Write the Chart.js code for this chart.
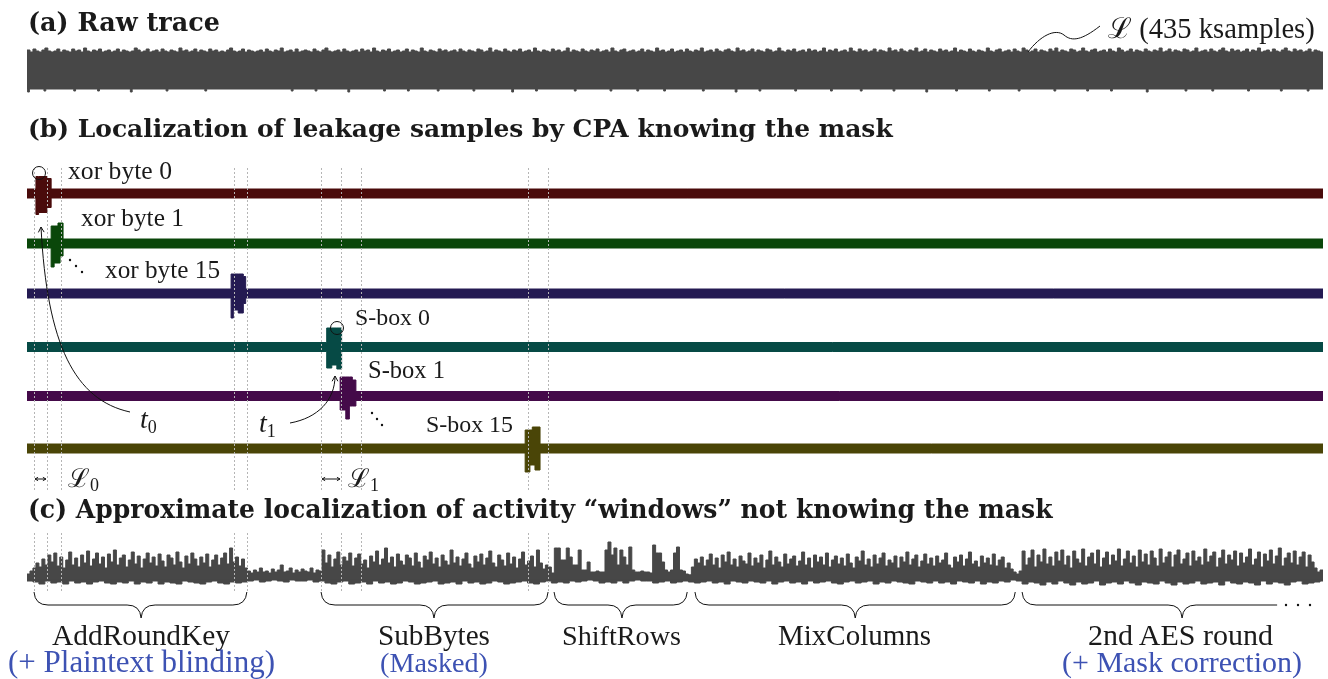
<!DOCTYPE html>
<html>
<head>
<meta charset="utf-8">
<script src="https://cdn.jsdelivr.net/npm/chart.js"></script>
<style>
html, body { margin: 0; padding: 0; background: #fff; }
#wrap { position: relative; width: 1328px; height: 679px; overflow: hidden; }
#c, #txt { position: absolute; left: 0; top: 0; }
#txt { pointer-events: none; }
#txt text { font-family: "Liberation Serif", "DejaVu Serif", serif; fill: #1a1a1a; }
#txt text.t { font-family: "DejaVu Serif", serif; font-weight: bold; }
#txt text.blue { fill: #3d52b3; }
</style>
</head>
<body>
<div id="wrap">
<canvas id="c" width="1328" height="679"></canvas>
<svg id="txt" width="1328" height="679" xmlns="http://www.w3.org/2000/svg">
  <text class="t" x="28" y="31" font-size="23" data-w="192">(a) Raw trace</text>
  <text x="1108" y="38" font-size="26" data-w="207">ℒ (435 ksamples)</text>
  <text class="t" x="28" y="137" font-size="23" data-w="865">(b) Localization of leakage samples by CPA knowing the mask</text>
  <text x="68" y="179" font-size="20" data-w="104">xor byte 0</text>
  <text x="81" y="226" font-size="20" data-w="103">xor byte 1</text>
  <text x="105" y="278" font-size="20" data-w="115">xor byte 15</text>
  <text x="355" y="325" font-size="20" data-w="75">S-box 0</text>
  <text x="368" y="378" font-size="20" data-w="77">S-box 1</text>
  <text x="426" y="432" font-size="20" data-w="87">S-box 15</text>
  <text x="140" y="428" font-size="28" font-style="italic">t<tspan font-size="18" dy="5" font-style="normal">0</tspan></text>
  <text x="259" y="432" font-size="28" font-style="italic">t<tspan font-size="18" dy="5" font-style="normal">1</tspan></text>
  <text x="68" y="487" font-size="26">ℒ<tspan font-size="18" dy="4">0</tspan></text>
  <text x="348" y="487" font-size="26">ℒ<tspan font-size="18" dy="4">1</tspan></text>
  <text class="t" x="28" y="518" font-size="23" data-w="1025">(c) Approximate localization of activity “windows” not knowing the mask</text>
  <text x="141" y="645" font-size="26" text-anchor="middle" data-w="178">AddRoundKey</text>
  <text class="blue" x="141.5" y="672" font-size="26" text-anchor="middle" data-w="267">(+ Plaintext blinding)</text>
  <text x="434" y="645" font-size="26" text-anchor="middle" data-w="112">SubBytes</text>
  <text class="blue" x="434" y="672" font-size="26" text-anchor="middle" data-w="108">(Masked)</text>
  <text x="621.5" y="645" font-size="26" text-anchor="middle" data-w="119">ShiftRows</text>
  <text x="854.5" y="645" font-size="26" text-anchor="middle" data-w="153">MixColumns</text>
  <text x="1180.5" y="645" font-size="26" text-anchor="middle" data-w="185">2nd AES round</text>
  <text class="blue" x="1182" y="672" font-size="26" text-anchor="middle" data-w="240">(+ Mask correction)</text>
</svg>
</div>
<script>
// trace length in ksamples
const SAMPLES = 435;

// (a) raw trace: extra height of the upper edge, one value per ksample
const rawTop = [
  2,0,3,1,0,2,4,1,0,1,3,0,2,1,0,3,1,2,0,4,1,0,2,1,3,0,1,2,0,
  1,3,0,2,1,0,1,4,2,0,1,3,0,1,2,0,3,1,0,2,1,0,4,1,2,0,1,3,0,
  2,1,0,3,1,2,0,1,0,2,4,1,0,1,3,0,2,1,0,1,2,0,3,1,0,2,1,4,0,
  1,2,0,3,0,1,2,1,0,3,1,0,2,4,1,0,1,2,0,3,1,0,1,2,0,3,1,2,0,
  4,1,0,2,1,3,0,1,2,0,1,3,0,2,1,0,4,1,0,2,1,0,3,1,2,0,1,2,0,
  3,1,0,2,1,0,3,2,0,1,4,0,2,1,0,3,1,0,2,1,3,0,1,2,0,4,1,0,2,
  1,0,3,1,2,0,1,4,0,2,1,0,3,1,0,2,1,3,0,1,2,0,4,1,0,2,3,0,1,
  2,0,1,3,0,2,1,0,4,1,2,0,1,3,0,1,2,0,3,1,0,2,1,4,0,1,2,0,3,
  1,0,2,3,1,0,4,1,2,0,1,3,0,2,1,0,3,2,0,1,4,1,0,2,1,3,0,1,2,
  0,3,1,2,0,1,4,0,2,1,3,0,1,2,0,4,1,0,3,1,2,0,1,3,0,2,1,0,4,
  1,2,0,3,1,0,2,1,4,0,1,3,0,2,1,0,3,1,2,0,1,4,0,2,1,0,3,1,0,
  2,1,0,4,1,0,2,3,0,1,2,0,3,1,0,4,2,0,1,3,0,2,1,0,3,1,4,0,2,
  1,0,3,2,0,1,4,1,0,2,3,0,1,2,0,3,1,0,4,2,0,1,3,0,2,1,0,3,1,
  0,2,1,4,0,1,3,0,2,1,0,3,2,0,1,4,0,1,2,0,3,1,0,2,4,1,0,3,1,
  2,0,1,3,0,2,1,4,0,1,2,0,3,1,0,2,4,1,0,3,1,2,0,1,3,0,2,1,0
];
// (a) raw trace: downward ticks of the lower edge (ksample, depth)
const rawBottomTicks = [0.5, 6, 16, 24, 35, 47, 60, 89, 97, 108, 120, 128, 138, 150, 163, 171, 184, 196, 205, 214,
  227, 238, 246, 258, 270, 280, 291, 302, 312, 323, 333, 345, 356, 364, 376, 389, 398, 410, 421, 430];
const rawBottomDepth = [3, 2, 2, 2, 3, 2, 2, 2, 2, 3, 2, 2, 2, 2, 3, 2, 2, 2, 2, 2,
  2, 3, 2, 2, 2, 2, 2, 3, 2, 2, 2, 2, 2, 2, 3, 2, 2, 2, 2, 2];

// (b) CPA traces: leakage spikes as [from ks, to ks, height up, depth down]
const traceNames = ['xor byte 0', 'xor byte 1', 'xor byte 15', 'S-box 0', 'S-box 1', 'S-box 15'];
const spikeXor0 = [[3.0, 3.9, 17, 21], [3.9, 6.7, 17, 19], [6.7, 8.1, 15, 14]];
const spikeXor1 = [[8.1, 9.1, 17.5, 23.5], [9.1, 10.4, 17.5, 19.5], [10.4, 11.1, 20.5, 19.5], [11.1, 12.1, 20.5, 12.5]];
const spikeXor15 = [[68.5, 69.25, 19.5, 24.5], [69.25, 70.9, 19.5, 16.5], [70.9, 72.6, 19.5, 19.5], [72.6, 73.4, 17, 10]];
const spikeSbox0 = [[100.6, 102.3, 19, 21], [102.3, 104.0, 19, 18], [104.0, 105.6, 19, 22]];
const spikeSbox1 = [[105.1, 107.0, 19, 14], [107.0, 108.2, 19, 23], [108.2, 109.2, 19, 10], [109.2, 110.4, 16, 10]];
const spikeSbox15 = [[167.2, 168.8, 18.5, 23.5], [168.8, 169.6, 18.5, 16.5], [169.6, 170.5, 21.5, 16.5], [170.5, 172.2, 21.5, 21.5]];

// (c) activity trace: upper envelope, one value per ksample
const actTop = [
  3, 6, 9, 14, 10, 18, 12, 22, 15, 24, 11, 20, 9, 17, 25, 12, 19, 10, 22, 14,
  26, 11, 18, 24, 13, 20, 9, 23, 15, 27, 12, 19, 22, 10, 17, 25, 13, 21, 9, 18,
  24, 14, 20, 11, 23, 16, 10, 22, 19, 12, 25, 15, 9, 21, 13, 24, 18, 11, 20, 14,
  23, 10, 17, 22, 12, 19, 24, 13, 29, 15, 20, 11, 18, 9, 6,
  4, 7, 5, 9, 5, 6, 4, 8, 5, 7, 12, 5, 6, 9, 4, 7, 5, 8, 6, 5, 9, 4, 7, 6,
  27, 14, 22, 10, 18, 25, 12, 20, 16, 24, 11, 19, 23, 13, 17, 9, 21, 15, 26, 12,
  18, 29, 14, 20, 10, 23, 16, 12, 22, 19, 11, 24, 15, 9, 21, 17, 25, 13, 19, 10,
  22, 16, 12, 27, 14, 20, 11, 18, 24, 13, 9, 21, 15, 23, 12, 19, 26, 14, 10, 22,
  17, 11, 24, 13, 20, 9, 18, 25, 12, 16, 21, 10, 27, 14, 8, 12,
  10, 4, 29, 29, 17, 17, 29, 20, 12, 12, 27, 7, 7, 15, 5, 5, 6, 5, 5, 27,
  35, 22, 29, 12, 27, 20, 12, 30, 7, 5, 5, 6, 5, 5, 4, 32, 24, 24, 15, 7,
  5, 7, 24, 30, 7, 6, 3, 2, 10, 18,
  14, 20, 11, 17, 23, 12, 19, 9, 22, 15, 25, 12, 18, 10, 21, 16, 13, 24, 11, 19,
  14, 22, 9, 17, 26, 12, 20, 15, 10, 23, 13, 18, 21, 11, 16, 25, 12, 19, 9, 22,
  15, 20, 12, 24, 10, 17, 21, 13, 19, 11, 23, 14, 9, 20, 16, 26, 12, 18, 10, 22,
  13, 19, 24, 11, 17, 14, 21, 9, 20, 15, 25, 12, 18, 22, 10, 16, 23, 13, 19, 11,
  21, 14, 17, 24, 12, 9, 20, 15, 22, 11, 18, 25, 13, 16, 10, 21, 14, 19, 12, 23,
  11, 17, 20, 9, 14, 8, 5, 3, 6,
  26, 12, 19, 27, 10, 22, 15, 28, 13, 20, 11, 25, 16, 27, 12, 21, 9, 26, 18, 14,
  28, 11, 20, 24, 13, 27, 10, 19, 25, 12, 22, 16, 28, 11, 18, 26, 14, 21, 10, 27,
  15, 23, 12, 26, 19, 11, 28, 14, 20, 25, 10, 22, 27, 13, 18, 24, 11, 26, 16, 20,
  12, 28, 15, 21, 25, 10, 19, 27, 13, 22, 17, 26, 11, 24, 14, 20, 28, 12, 18, 25,
  10, 23, 16, 27, 13, 21, 29, 11, 19, 24, 14, 26, 12, 20, 25, 10, 22, 15, 9, 5, 7
];
// (c) activity trace: lower envelope, one value per 2 ksamples
const actBottom = [
  4, 5, 7, 4, 6, 5, 7, 4, 6, 5, 7, 5, 4, 6, 7, 5, 6, 4, 7, 5,
  6, 4, 7, 5, 6, 7, 4, 5, 6, 7, 5, 4, 6, 7, 5, 6, 5,
  4, 3, 5, 4, 3, 4, 5, 3, 4, 4, 3, 5, 4,
  6, 7, 5, 4, 7, 6, 5, 7, 4, 6, 5, 7, 6, 4, 5, 7, 6, 5, 4, 7,
  6, 5, 7, 4, 6, 5, 7, 6, 4, 5, 7, 6, 5, 4, 6, 7, 5, 4,
  6, 5, 6, 4, 5, 4, 3, 4, 6, 5, 6, 4, 6, 4, 3, 4, 4, 6, 5, 4, 6, 5, 4, 5,
  6, 5, 4, 6, 5, 7, 4, 5, 6, 4, 5, 6, 4, 7, 5, 4, 6, 5, 7, 4,
  6, 5, 4, 6, 7, 5, 4, 6, 5, 4, 7, 5, 6, 4, 5, 6, 7, 4, 5, 6,
  4, 6, 5, 7, 4, 5, 6, 4, 7, 5, 6, 4, 5, 3,
  4, 7, 5, 6, 8, 5, 7, 4, 6, 8, 5, 7, 6, 4, 8, 6, 5, 7, 4, 6,
  8, 5, 6, 7, 4, 6, 8, 5, 7, 6, 4, 7, 6, 5, 8, 4, 6, 7, 5, 6,
  8, 4, 7, 5, 6, 8, 5, 4, 7, 6, 5, 4
];

// dotted window marks (ksamples) and phase braces
const windowMarks = [2.35, 6.7, 11.4, 69.5, 73.8, 98.7, 105.4, 112.1, 168.2, 174.9];
const phaseStart = [2.35, 98.7, 176.9, 224.2, 334.0];
const phaseEnd = [73.8, 174.9, 221.6, 331.7, 419.6];
const phaseTip = [38.3, 136.6, 199.7, 278.0, 387.7];

// layout (pixels on the 0..679 vertical axis)
const LANE_A = 70.5, HALF_A = 18.5;
const LANE_B = [193.5, 243.5, 293.5, 347, 396, 448.5], HALF_B = 4.5;
const LANE_C = 577;
const GRAY = '#474747';
const traceColors = ['#4a0b0b', '#0a470a', '#241a52', '#064a45', '#440a49', '#4a4507'];

function stepPoints(values, step, toY) {
  const pts = values.map((v, i) => ({ x: i * step, y: toY(v) }));
  pts.push({ x: values.length * step, y: toY(values[values.length - 1]) });
  return pts;
}
function tickPoints(xs, depths, base, sign) {
  const pts = [{ x: 0, y: base }];
  xs.forEach((t, i) => {
    pts.push({ x: Math.max(0, t - 0.3), y: base + sign * depths[i] });
    pts.push({ x: t + 0.3, y: base });
  });
  pts.push({ x: SAMPLES, y: base });
  return pts;
}
function spikePoints(center, spikes, sign) {
  const pts = [{ x: 0, y: center + sign * HALF_B }];
  spikes.forEach(([s, e, up, dn], i) => {
    pts.push({ x: s, y: center + sign * (sign < 0 ? up : dn) });
    const next = spikes[i + 1];
    if (!next || next[0] !== e) pts.push({ x: e, y: center + sign * HALF_B });
  });
  pts.push({ x: SAMPLES, y: center + sign * HALF_B });
  return pts;
}
// each half of a band fills a little past the centre line so no seam shows
function band(label, pts, color, lane, side) {
  return {
    label: label, data: pts, borderColor: color, backgroundColor: color,
    borderWidth: 1, pointRadius: 0, stepped: true, tension: 0, fill: { value: lane + side * 2.5 }
  };
}

const datasets = [
  band('raw top', stepPoints(rawTop, 1, v => LANE_A - HALF_A - v), GRAY, LANE_A, 1),
  band('raw bottom', tickPoints(rawBottomTicks, rawBottomDepth, LANE_A + HALF_A, 1), GRAY, LANE_A, -1)
];
const spikes = [spikeXor0, spikeXor1, spikeXor15, spikeSbox0, spikeSbox1, spikeSbox15];
spikes.forEach((sp, k) => {
  datasets.push(band(traceNames[k] + ' up', spikePoints(LANE_B[k], sp, -1), traceColors[k], LANE_B[k], 1));
  datasets.push(band(traceNames[k] + ' down', spikePoints(LANE_B[k], sp, 1), traceColors[k], LANE_B[k], -1));
});
datasets.push(band('activity top', stepPoints(actTop, 1, v => LANE_C - v), GRAY, LANE_C, 1));
datasets.push(band('activity bottom', stepPoints(actBottom, 2, v => LANE_C + v), GRAY, LANE_C, -1));

function arrowHead(ctx, x, y, ang, l) {
  ctx.beginPath();
  ctx.moveTo(x - l * Math.cos(ang - 0.5), y - l * Math.sin(ang - 0.5));
  ctx.lineTo(x, y);
  ctx.lineTo(x - l * Math.cos(ang + 0.5), y - l * Math.sin(ang + 0.5));
  ctx.stroke();
}
function brace(ctx, x1, x2, tip, cut) {
  const yT = 592, yM = 605, yB = 618, r = 14;
  ctx.beginPath();
  ctx.moveTo(x1, yT);
  ctx.quadraticCurveTo(x1 + 1, yM, x1 + r, yM);
  ctx.lineTo(tip - r, yM);
  ctx.quadraticCurveTo(tip - 1, yM, tip, yB);
  ctx.moveTo(tip, yB);
  ctx.quadraticCurveTo(tip + 1, yM, tip + r, yM);
  if (cut) {
    ctx.lineTo(x2, yM);
  } else {
    ctx.lineTo(x2 - r, yM);
    ctx.quadraticCurveTo(x2 - 1, yM, x2, yT);
  }
  ctx.stroke();
}
function dots(ctx, list) {
  list.forEach(([x, y]) => { ctx.beginPath(); ctx.arc(x, y, 1.2, 0, Math.PI * 2); ctx.fill(); });
}

const annotations = {
  id: 'annotations',
  afterDatasetsDraw(chart) {
    const ctx = chart.ctx, x = chart.scales.x;
    ctx.save();
    // dotted window marks
    ctx.strokeStyle = '#b5b5b5';
    ctx.lineWidth = 1;
    ctx.setLineDash([2, 2]);
    windowMarks.forEach(m => {
      const px = Math.round(x.getPixelForValue(m)) + 0.5;
      [[168, 490], [533, 592]].forEach(([a, b]) => {
        ctx.beginPath(); ctx.moveTo(px, a); ctx.lineTo(px, b); ctx.stroke();
      });
    });
    ctx.setLineDash([]);
    ctx.strokeStyle = '#111';
    ctx.fillStyle = '#111';
    // L0 / L1 spans
    [[0, 1], [5, 6]].forEach(([a, b]) => {
      const xa = x.getPixelForValue(windowMarks[a]) + 1, xb = x.getPixelForValue(windowMarks[b]) - 1;
      ctx.beginPath(); ctx.moveTo(xa, 479); ctx.lineTo(xb, 479); ctx.stroke();
      arrowHead(ctx, xa, 479, Math.PI, 3.5);
      arrowHead(ctx, xb, 479, 0, 3.5);
    });
    // phase braces
    phaseStart.forEach((s, i) => {
      brace(ctx, x.getPixelForValue(s), x.getPixelForValue(phaseEnd[i]), x.getPixelForValue(phaseTip[i]), i === phaseStart.length - 1);
    });
    dots(ctx, [[1286, 605], [1298, 605], [1310, 605]]);
    // circles on first leaking samples
    ctx.beginPath(); ctx.arc(39, 173, 6.5, 0, Math.PI * 2); ctx.stroke();
    ctx.beginPath(); ctx.arc(337, 328, 6.5, 0, Math.PI * 2); ctx.stroke();
    // t0 / t1 arrows
    ctx.beginPath(); ctx.moveTo(130, 412); ctx.bezierCurveTo(75, 400, 47, 345, 41, 227); ctx.stroke();
    arrowHead(ctx, 41, 227, -Math.PI / 2 - 0.05, 6);
    ctx.beginPath(); ctx.moveTo(290, 423); ctx.bezierCurveTo(318, 418, 335, 400, 335, 376); ctx.stroke();
    arrowHead(ctx, 335, 376, -Math.PI / 2, 6);
    // leader to the length label
    ctx.beginPath(); ctx.moveTo(1028, 52);
    ctx.bezierCurveTo(1040, 36, 1055, 28, 1064, 35);
    ctx.bezierCurveTo(1072, 42, 1082, 40, 1100, 26);
    ctx.stroke();
    // diagonal dots
    dots(ctx, [[70, 260], [76, 266], [82, 272], [372, 413], [377, 419], [382, 425]]);
    ctx.restore();
  }
};

new Chart(document.getElementById('c'), {
  type: 'line',
  data: { datasets: datasets },
  options: {
    responsive: false,
    devicePixelRatio: 1,
    animation: false,
    events: [],
    layout: { padding: { left: 27, right: 5, top: 0, bottom: 0 } },
    scales: {
      x: { type: 'linear', min: 0, max: SAMPLES, display: false },
      y: { type: 'linear', min: 0, max: 679, reverse: true, display: false }
    },
    plugins: { legend: { display: false }, tooltip: { enabled: false } }
  },
  plugins: [annotations]
});

// fit text widths to the reference
document.querySelectorAll('#txt text[data-w]').forEach(el => {
  const fs = parseFloat(el.getAttribute('font-size'));
  const len = el.getComputedTextLength();
  if (len > 0) el.setAttribute('font-size', (fs * (+el.dataset.w) / len).toFixed(2));
});
</script>
</body>
</html>
